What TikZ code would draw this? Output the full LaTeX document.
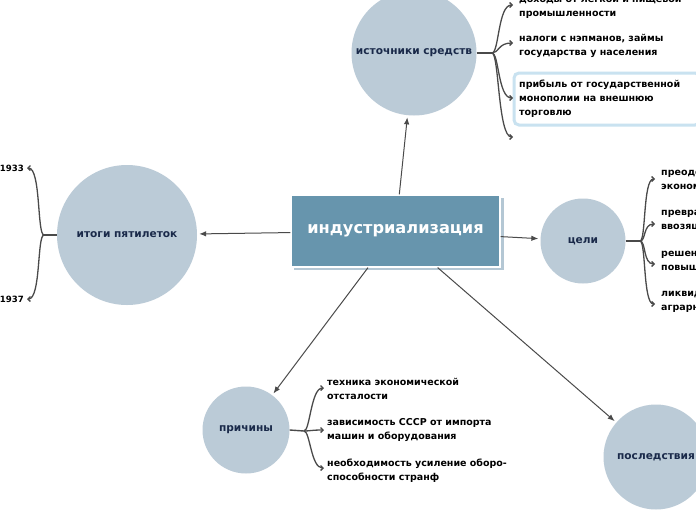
\documentclass[tikz,border=0pt]{standalone}
\usepackage{fontspec}
\setmainfont{DejaVu Sans}
\usetikzlibrary{arrows.meta,calc}
\definecolor{circ}{HTML}{BBCBD7}
\definecolor{mainfill}{HTML}{6795AD}
\definecolor{mainshadow}{HTML}{B4C7D4}
\definecolor{navy}{HTML}{1A2A4A}
\definecolor{lnk}{HTML}{4A4A4A}
\definecolor{hl}{HTML}{C9E2F0}
\begin{document}
\begin{tikzpicture}[x=1pt,y=-1pt,
 topic/.style={circle,fill=circ,inner sep=0pt,minimum size=#1,font=\fontsize{10.6}{12}\selectfont\bfseries,text=navy},
 leaf/.style={anchor=west,align=left,inner sep=0pt,font=\fontsize{9.5}{14}\selectfont\bfseries,text=black},
 leafr/.style={anchor=east,align=right,inner sep=0pt,font=\fontsize{8.6}{14}\selectfont\bfseries,text=black},
 conn/.style={draw=lnk,line width=1pt,shorten >=2pt,-{Latex[length=7pt,width=5.5pt]}},
 trunk/.style={draw=lnk,line width=1.4pt},
 br/.style={draw=lnk,line width=1.3pt,-{Straight Barb[length=2.5pt,width=5pt]}},
]
\clip (0,0) rectangle (696,520);
\useasboundingbox (0,0) rectangle (696,520);
\fill[white] (0,0) rectangle (696,520);

% topics
\node[topic=125pt] (src) at (414,53) {источники средств};
\node[topic=140pt] (itog) at (127,235) {итоги пятилеток};
\node[topic=85pt] (goal) at (583,241) {цели};
\node[topic=87pt] (cause) at (246,430) {причины};
\node[topic=105pt] (cons) at (656,457) {последствия};

% central node
\fill[mainshadow] (294,198) rectangle (503.5,270);
\node[fill=mainfill,draw=white,line width=1.2pt,minimum width=209pt,minimum height=72pt,inner sep=0pt,
  font=\fontsize{16.2}{18}\selectfont\bfseries,text=white] (main) at (395.5,231) {индустриализация};

% main connectors
\draw[conn] (main) -- (src);
\draw[conn] (main) -- (itog);
\draw[conn] (main) -- (goal);
\draw[conn] (main) -- (cause);
\draw[conn] (main) -- (cons);

% ---- источники средств
\coordinate (j1) at (492,53);
\draw[trunk] (src.east) -- (j1);
\draw[hl,line width=3pt,fill=white,rounded corners=5pt] (514,73) rectangle (700,125);
\coordinate (t11) at (513,5);
\coordinate (t12) at (513,43);
\coordinate (t13) at (513,98);
\coordinate (t14) at (513,137);
\node[leaf] (l11) at (519,6.5) {доходы от легкой и пищевой\\промышленности};
\node[leaf] (l12) at (519,46) {налоги с нэпманов, займы\\государства у населения};
\node[leaf] (l13) at (519,99) {прибыль от государственной\\монополии на внешнюю\\торговлю};
\foreach \t in {t11,t12,t13,t14}
  \draw[br] (j1) .. controls ($(j1)+(7,0)$) and ($(\t)+(-15,0)$) .. (\t);

% ---- итоги пятилеток
\coordinate (j2) at (44,235);
\draw[trunk] (itog.west) -- (j2);
\coordinate (t21) at (27,168);
\coordinate (t22) at (27,299);
\node[leafr] (l21) at (24,168) {1933};
\node[leafr] (l22) at (24,299) {1937};
\foreach \t in {t21,t22}
  \draw[br] (j2) .. controls ($(j2)+(-7,0)$) and ($(\t)+(14,0)$) .. (\t);

% ---- цели
\coordinate (j3) at (640,241);
\draw[trunk] (goal.east) -- (j3);
\coordinate (t31) at (655,179);
\coordinate (t32) at (655,224);
\coordinate (t33) at (655,264);
\coordinate (t34) at (655,304);
\node[leaf] (l31) at (661,179.5) {преодоление\\экономической отсталости};
\node[leaf] (l32) at (661,220) {превращение страны из\\ввозящей машины};
\node[leaf] (l33) at (661,262) {решение задачи\\повышения обороноспособности};
\node[leaf] (l34) at (661,302) {ликвидация\\аграрного характера страны};
\foreach \t in {t31,t32,t33,t34}
  \draw[br] (j3) .. controls ($(j3)+(6,0)$) and ($(\t)+(-12,0)$) .. (\t);

% ---- причины
\coordinate (j4) at (304,431);
\draw[trunk] (cause.east) -- (j4);
\coordinate (t41) at (324,388);
\coordinate (t42) at (324,430);
\coordinate (t43) at (324,468);
\node[leaf] (l41) at (327,389) {техника экономической\\отсталости};
\node[leaf] (l42) at (327,430) {зависимость СССР от импорта\\машин и оборудования};
\node[leaf] (l43) at (327,471) {необходимость усиление оборо-\\способности странф};
\foreach \t in {t41,t42,t43}
  \draw[br] (j4) .. controls ($(j4)+(6,0)$) and ($(\t)+(-13,0)$) .. (\t);
\end{tikzpicture}
\end{document}
